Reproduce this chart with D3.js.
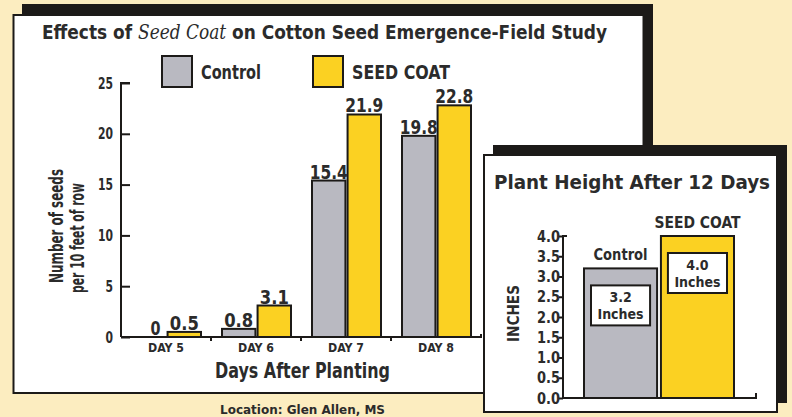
<!DOCTYPE html>
<html lang='en'>
<head>
<meta charset='utf-8'>
<title>Seed Coat emergence</title>
<script src='https://d3js.org/d3.v7.min.js'></script>
<style>
  body { margin: 0; background: #fcedc0; }
  svg { display: block; }
  text { font-family: 'DejaVu Sans Condensed', 'Liberation Sans Narrow', 'DejaVu Sans', sans-serif; font-stretch: condensed; font-weight: bold; fill: #2b2b2b; }
</style>
</head>
<body>
<script>
'use strict'
// emergence study
const days = ['DAY 5', 'DAY 6', 'DAY 7', 'DAY 8']
const series = ['Control', 'SEED COAT']
const controlSeeds = [0, 0.8, 15.4, 19.8]
const seedCoatSeeds = [0.5, 3.1, 21.9, 22.8]
const seedTicks = [0, 5, 10, 15, 20, 25]

// plant height inset
const heightGroups = ['Control', 'SEED COAT']
const heightValues = [3.2, 4.0]
const heightTicks = [0, 0.5, 1, 1.5, 2, 2.5, 3, 3.5, 4]

const colors = { 'Control': '#b9b9c1', 'SEED COAT': '#fbd122' }
const ink = '#1c1a18'
const fam = "'DejaVu Sans Condensed', 'Liberation Sans Narrow', 'DejaVu Sans', sans-serif"

const W = 792, H = 417
const svg = d3.select('body').append('svg').attr('width', W).attr('height', H)
svg.append('rect').attr('width', W).attr('height', H).attr('fill', '#fcedc0')

// squeeze a text into a given width
function fit(sel, w) {
  sel.attr('textLength', w).attr('lengthAdjust', 'spacingAndGlyphs')
  return sel
}

/* ---------- main panel ---------- */
svg.append('rect').attr('x', 22).attr('y', 4).attr('width', 631).attr('height', 381).attr('fill', ink)
svg.append('rect').attr('x', 13.5).attr('y', 15).attr('width', 630).attr('height', 378)
  .attr('fill', '#fff').attr('stroke', ink).attr('stroke-width', 2)

const title = svg.append('text').attr('x', 42).attr('y', 39).attr('font-size', 20)
title.append('tspan').text('Effects of ')
title.append('tspan').attr('font-style', 'italic').attr('font-family', 'DejaVu Serif, serif').style('font-weight', 'normal').text('Seed Coat')
title.append('tspan').text(' on Cotton Seed Emergence-Field Study')
fit(title, 565)

// legend
const legX = [162, 313]
series.forEach(function(s, i) {
  svg.append('rect').attr('x', legX[i]).attr('y', 56).attr('width', 30).attr('height', 31)
    .attr('fill', colors[s]).attr('stroke', ink).attr('stroke-width', 2)
  fit(svg.append('text').attr('x', legX[i] + 39).attr('y', 79).attr('font-size', 20).text(s), i === 0 ? 60 : 98)
})

const y = d3.scaleLinear().domain([0, 25]).range([337, 83])
const x = d3.scaleBand().domain(days).range([121, 481])
const xs = d3.scaleBand().domain(series).range([11, 80]).paddingInner(0.06)

const gy = svg.append('g').attr('transform', 'translate(121,0)')
  .call(d3.axisRight(y).tickValues(seedTicks).tickSize(9).tickFormat(d3.format('d')))
gy.select('.domain').attr('stroke', ink).attr('stroke-width', 2).attr('d', 'M9,83H0V337')
gy.selectAll('.tick line').attr('stroke', ink).attr('stroke-width', 2)
gy.selectAll('.tick text').attr('x', -8).attr('text-anchor', 'end').attr('font-size', 16).attr('fill', '#333')
  .attr('font-family', fam)
  .each(function(d) { fit(d3.select(this), String(d).length * 7.5) })

const rows = days.map(function(d, i) { return { day: d, vals: [controlSeeds[i], seedCoatSeeds[i]] } })
const grp = svg.selectAll('g.day').data(rows).join('g').attr('class', 'day')
  .attr('transform', function(d) { return 'translate(' + x(d.day) + ',0)' })
grp.selectAll('rect').data(function(d) { return d.vals.map(function(v, i) { return { s: series[i], v: v } }) })
  .join('rect')
  .attr('x', function(d) { return xs(d.s) })
  .attr('width', xs.bandwidth())
  .attr('y', function(d) { return y(d.v) })
  .attr('height', function(d) { return y(0) - y(d.v) })
  .attr('fill', function(d) { return colors[d.s] })
  .attr('stroke', ink).attr('stroke-width', 2)
  .attr('display', function(d) { return d.v > 0 ? null : 'none' })
grp.selectAll('text.val').data(function(d) { return d.vals.map(function(v, i) { return { s: series[i], v: v } }) })
  .join('text').attr('class', 'val')
  .attr('x', function(d) { return d.v === 0 ? xs(d.s) + xs.bandwidth() - 10 : xs(d.s) + xs.bandwidth() / 2 })
  .attr('y', function(d) { return y(d.v) - 2 })
  .attr('text-anchor', 'middle').attr('font-size', 20).attr('fill', '#333')
  .text(function(d) { return d.v === 0 ? '0' : d3.format('.1f')(d.v) })
  .each(function(d) { fit(d3.select(this), d.v === 0 ? 10 : 29 + (d.v >= 10 ? 9 : 0)) })

// x axis
const gx = svg.append('g').attr('transform', 'translate(0,337)')
  .call(d3.axisBottom(x).tickSize(0))
gx.select('.domain').attr('stroke', ink).attr('stroke-width', 2).attr('d', 'M121,0H481V-3')
gx.selectAll('.tick text').attr('y', 6).attr('font-size', 13).attr('fill', '#333')
  .attr('font-family', fam)
  .each(function() { fit(d3.select(this), 36) })
days.slice(1).forEach(function(d) {
  svg.append('line').attr('x1', x(d)).attr('x2', x(d)).attr('y1', 337).attr('y2', 341).attr('stroke', ink).attr('stroke-width', 2)
})

fit(svg.append('text').attr('x', 215).attr('y', 378).attr('font-size', 21).text('Days  After  Planting'), 175)

const yt = svg.append('g')
fit(yt.append('text').attr('transform', 'translate(63,283) rotate(-90)').attr('font-size', 19).text('Number  of  seeds'), 114)
fit(yt.append('text').attr('transform', 'translate(84,293) rotate(-90)').attr('font-size', 19).text('per  10  feet  of  row'), 110)

fit(svg.append('text').attr('x', 220).attr('y', 414).attr('font-size', 13)
  .attr('fill', '#333').text('Location:  Glen  Allen,  MS'), 165)

/* ---------- inset panel ---------- */
svg.append('rect').attr('x', 493).attr('y', 145).attr('width', 294).attr('height', 258).attr('fill', ink)
svg.append('rect').attr('x', 484).attr('y', 155).attr('width', 293).attr('height', 257)
  .attr('fill', '#fff').attr('stroke', ink).attr('stroke-width', 2)

fit(svg.append('text').attr('x', 494).attr('y', 189).attr('font-size', 19).text('Plant  Height  After  12  Days'), 276)

const hy = d3.scaleLinear().domain([0, 4]).range([398, 236])
const hx = d3.scaleBand().domain(heightGroups).range([584, 734]).paddingInner(0.05)

const ghy = svg.append('g').attr('transform', 'translate(563,0)')
  .call(d3.axisLeft(hy).tickValues(heightTicks).tickSize(4).tickFormat(d3.format('.1f')))
ghy.select('.domain').attr('stroke', ink).attr('stroke-width', 2).attr('d', 'M4,236H0V398')
ghy.selectAll('.tick line').attr('stroke', ink).attr('stroke-width', 2)
ghy.selectAll('.tick text').attr('x', -3).attr('font-size', 16).attr('fill', '#333')
  .attr('font-family', fam)
  .each(function() { fit(d3.select(this), 23) })

svg.append('path').attr('d', 'M563,398H756V393').attr('fill', 'none').attr('stroke', ink).attr('stroke-width', 2)

fit(svg.append('text').attr('transform', 'translate(519,342) rotate(-90)').attr('font-size', 15).text('INCHES'), 57)

const hrows = heightGroups.map(function(g, i) { return { g: g, v: heightValues[i] } })
svg.selectAll('rect.h').data(hrows).join('rect').attr('class', 'h')
  .attr('x', function(d) { return hx(d.g) })
  .attr('width', hx.bandwidth())
  .attr('y', function(d) { return hy(d.v) })
  .attr('height', function(d) { return hy(0) - hy(d.v) })
  .attr('fill', function(d) { return colors[d.g] })
  .attr('stroke', ink).attr('stroke-width', 2)

svg.selectAll('text.hname').data(hrows).join('text').attr('class', 'hname')
  .attr('x', function(d) { return hx(d.g) + hx.bandwidth() / 2 })
  .attr('y', function(d) { return hy(d.v) - 8 })
  .attr('text-anchor', 'middle').attr('font-size', 16).text(function(d) { return d.g })
  .each(function(d) { fit(d3.select(this), d.g === 'Control' ? 54 : 86) })

// value boxes inside bars
svg.selectAll('rect.hbox').data(hrows).join('rect').attr('class', 'hbox')
  .attr('x', function(d) { return hx(d.g) + 7 })
  .attr('width', hx.bandwidth() - 14)
  .attr('y', function(d) { return hy(d.v) + 17 })
  .attr('height', 40)
  .attr('fill', '#fff').attr('stroke', ink).attr('stroke-width', 2)
svg.selectAll('text.hv').data(hrows).join('text').attr('class', 'hv')
  .attr('x', function(d) { return hx(d.g) + hx.bandwidth() / 2 })
  .attr('y', function(d) { return hy(d.v) + 34 })
  .attr('text-anchor', 'middle').attr('font-size', 14)
  .text(function(d) { return d3.format('.1f')(d.v) })
svg.selectAll('text.hu').data(hrows).join('text').attr('class', 'hu')
  .attr('x', function(d) { return hx(d.g) + hx.bandwidth() / 2 })
  .attr('y', function(d) { return hy(d.v) + 51 })
  .attr('text-anchor', 'middle').attr('font-size', 14).text('Inches')
</script>
</body>
</html>
